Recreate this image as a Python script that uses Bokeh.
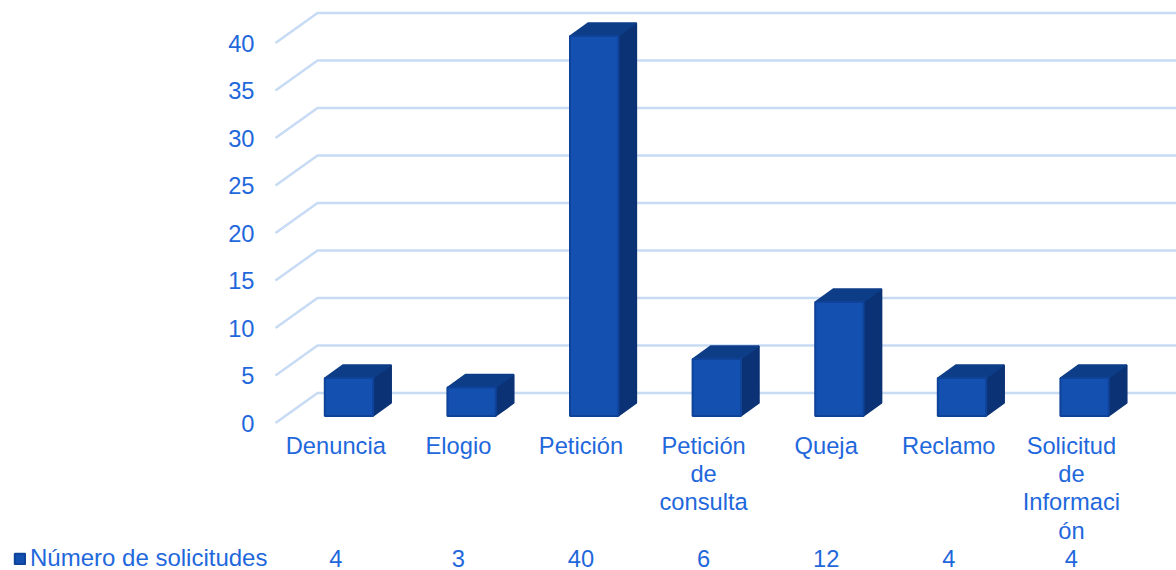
from bokeh.embed import file_html
from bokeh.resources import INLINE
from bokeh.core.properties import value
from bokeh.models import Range1d, Legend, LegendItem
from bokeh.plotting import figure

categories = ["Denuncia", "Elogio", "Petición", "Petición\nde\nconsulta", "Queja", "Reclamo", "Solicitud\nde\nInformaci\nón"]
values = [4, 3, 40, 6, 12, 4, 4]
y_ticks = [0, 5, 10, 15, 20, 25, 30, 35, 40]
series_name = "Número de solicitudes"

FONT = "Liberation Sans"
SIZE = "23.7px"
TEXT = "#1F68DC"
GRID = "#C8DBF4"
FRONT = "#1350B0"
TOP = "#0E3D88"
SIDE = "#0B3274"
EDGE = "#0E4399"

W, H = 1176, 570
PX_X = 122.6
PX_Y = 9.5
LEFT, BOTTOM = 275, 422.5      # plot floor's left edge and value-0 row, in canvas pixels
DEPTH_X, DEPTH_Y = 42 / PX_X, 30 / PX_Y    # wall depth in data units
BAR_HALF = 24.2 / PX_X
BAR_DX, BAR_DY = 18 / PX_X, 13 / PX_Y      # bar depth
BAR_SHIFT_X, BAR_BASE = 12.2 / PX_X, 7 / PX_Y
TEXT_SHIFT = -1 / PX_X

x_floor = -0.5
x_min = x_floor - LEFT / PX_X
x_max = x_min + W / PX_X
p = figure(width=W, height=H, output_backend="svg", toolbar_location=None,
           x_range=Range1d(x_min, x_max), y_range=Range1d(-(H - BOTTOM) / PX_Y, BOTTOM / PX_Y),
           x_axis_type=None, y_axis_type=None,
           min_border_left=0, min_border_right=0, min_border_top=0, min_border_bottom=0,
           outline_line_color=None, background_fill_color="white", border_fill_color="white")
p.grid.visible = False

gx = [[x_floor, x_floor + DEPTH_X, x_max] for _ in y_ticks]
gy = [[v, v + DEPTH_Y, v + DEPTH_Y] for v in y_ticks]
p.multi_line(gx, gy, line_color=GRID, line_width=2.5)

front_x, front_y, top_x, top_y, side_x, side_y = [], [], [], [], [], []
for i, v in enumerate(values):
    l = i + BAR_SHIFT_X - BAR_HALF
    r = i + BAR_SHIFT_X + BAR_HALF
    b = BAR_BASE
    t = v + BAR_BASE
    front_x.append([l, r, r, l]); front_y.append([b, b, t, t])
    top_x.append([l, r, r + BAR_DX, l + BAR_DX]); top_y.append([t, t, t + BAR_DY, t + BAR_DY])
    side_x.append([r, r + BAR_DX, r + BAR_DX, r]); side_y.append([b, b + BAR_DY, t + BAR_DY, t])
p.patches(side_x, side_y, fill_color=SIDE, line_color=SIDE, line_width=1.5)
p.patches(top_x, top_y, fill_color=TOP, line_color=TOP, line_width=1.5)
bars = p.patches(front_x, front_y, fill_color=FRONT, line_color=EDGE, line_width=2)

style = dict(text_font=value(FONT), text_font_size=value(SIZE), text_color=TEXT)
idx = [i + TEXT_SHIFT for i in range(len(categories))]
# value labels
p.text([x_floor - 21 / PX_X] * len(y_ticks), y_ticks, text=[str(v) for v in y_ticks],
       text_align="right", text_baseline="middle", **style)
# category labels
p.text(idx, [-(432 - BOTTOM) / PX_Y] * len(idx), text=categories,
       text_align="center", text_baseline="top", text_line_height=1.09, **style)
# data-table row
p.text(idx, [-(557.5 - BOTTOM) / PX_Y] * len(idx), text=[str(v) for v in values],
       text_align="center", text_baseline="middle", **style)

legend = Legend(items=[LegendItem(label=series_name, renderers=[bars])],
                location=(13, -2), orientation="horizontal",
                background_fill_alpha=0, border_line_color=None,
                margin=0, padding=0, glyph_width=13, glyph_height=13, label_standoff=4,
                label_text_font=FONT, label_text_font_size="24px", label_text_color=TEXT)
p.add_layout(legend, "center")

open("out.html", "w").write(file_html(p, INLINE))
